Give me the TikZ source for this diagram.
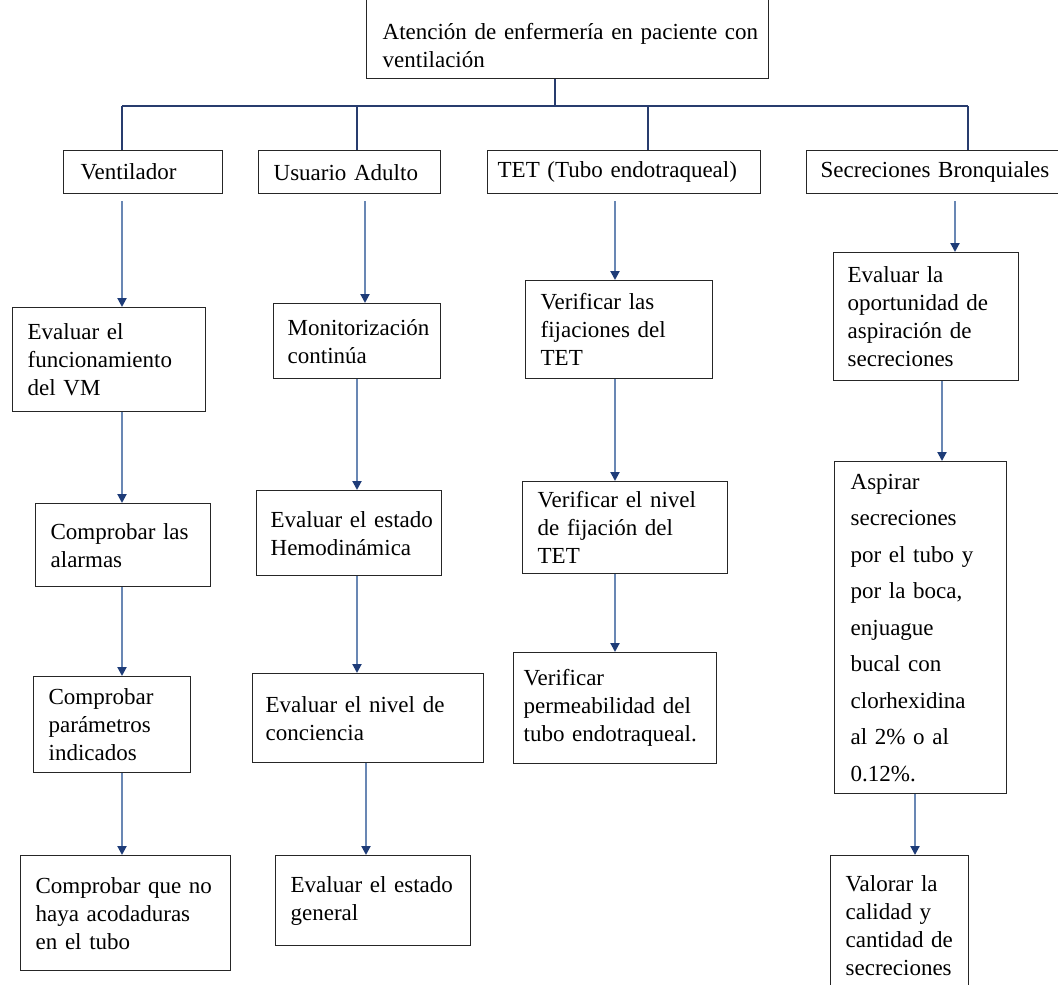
\documentclass[tikz,border=0pt]{standalone}
\usepackage{fontspec}
\setmainfont{Liberation Serif}
\usetikzlibrary{arrows.meta}

\definecolor{linea}{RGB}{40,60,110}
\definecolor{flecha}{RGB}{105,135,180}
\definecolor{punta}{RGB}{30,60,120}

\tikzset{
  caja/.style={draw=black!85, line width=1.3pt, anchor=north west,
    inner xsep=0pt, inner ysep=0pt,
    font=\fontsize{23}{28}\selectfont,
    execute at begin node={\leftskip=#1\rightskip=0pt plus 1fil\parindent=0pt}},
  caja/.default=14pt,
  rama/.style={draw=linea, line width=1.6pt},
  baja/.style={draw=flecha, line width=2pt,
    -{Triangle[length=9pt,width=9pt,color=punta]}}
}

\begin{document}
\begin{tikzpicture}[x=1pt,y=-1pt]

\useasboundingbox[fill=white] (0,0) rectangle (1058,985);

%% Titulo
\node[caja=16pt, text width=402pt, minimum height=81pt, text height=30pt] (aten) at (366,-3)
  {Atención de enfermería en paciente con\\ventilación};

%% Primer nivel
\node[caja=17pt, text width=159pt, minimum height=43pt] (vent) at (63,150) {Ventilador};
\node[caja=15pt, text width=182pt, minimum height=43pt] (usu) at (258,150) {Usuario Adulto};
\node[caja=10pt, text width=273pt, minimum height=43pt] (tet) at (487,150) {TET (Tubo endotraqueal)};
\node[caja, text width=300pt, minimum height=43pt] (secr) at (806,150) {Secreciones Bronquiales};

%% Ventilador
\node[caja=15pt, text width=193pt, minimum height=104pt] (vm) at (12,307)
  {Evaluar el\\funcionamiento\\del VM};
\node[caja=15pt, text width=175pt, minimum height=83pt] (alarmas) at (35,503)
  {Comprobar las\\alarmas};
\node[caja=15pt, text width=157pt, minimum height=96pt] (param) at (33,676)
  {Comprobar\\parámetros\\indicados};
\node[caja=15pt, text width=210pt, minimum height=115pt] (acod) at (20,855)
  {Comprobar que no\\haya acodaduras\\en el tubo};

%% Usuario adulto
\node[caja, text width=167pt, minimum height=75pt] (monit) at (273,303)
  {Monitorización\\continúa};
\node[caja, text width=185pt, minimum height=85pt] (hemo) at (256,490)
  {Evaluar el estado\\Hemodinámica};
\node[caja=13pt, text width=231pt, minimum height=89pt] (conc) at (252,673)
  {Evaluar el nivel de\\conciencia};
\node[caja=15pt, text width=195pt, minimum height=90pt] (gral) at (275,855)
  {Evaluar el estado\\general};

%% TET
\node[caja=15pt, text width=187pt, minimum height=98pt] (fij) at (525,280)
  {Verificar las\\fijaciones del\\TET};
\node[caja=15pt, text width=205pt, minimum height=92pt] (nivel) at (522,481)
  {Verificar el nivel\\de fijación del\\TET};
\node[caja=10pt, text width=203pt, minimum height=111pt] (perm) at (513,652)
  {Verificar\\permeabilidad del\\tubo endotraqueal.};

%% Secreciones
\node[caja, text width=185pt, minimum height=128pt] (oport) at (833,252)
  {Evaluar la\\oportunidad de\\aspiración de\\secreciones};
\node[caja=16pt, text width=172pt, minimum height=332pt, font=\fontsize{23}{36.5}\selectfont] (aspirar) at (834,461)
  {Aspirar\\secreciones\\por el tubo y\\por la boca,\\enjuague\\bucal con\\clorhexidina\\al 2\% o al\\0.12\%.};
\node[caja=15pt, text width=138pt, minimum height=140pt] (valorar) at (830,855)
  {Valorar la\\calidad y\\cantidad de\\secreciones};

%% Ramas del titulo
\coordinate (nudo) at (555,106);
\coordinate (r1) at (122,106);
\coordinate (r2) at (357,106);
\coordinate (r3) at (648,106);
\coordinate (r4) at (968,106);
\draw[rama] (aten.south -| nudo) -- (nudo);
\draw[rama] (r1) -- (r4);
\draw[rama] (r1) -- (r1 |- vent.north);
\draw[rama] (r2) -- (r2 |- usu.north);
\draw[rama] (r3) -- (r3 |- tet.north);
\draw[rama] (r4) -- (r4 |- secr.north);

%% Flechas
\draw[baja, shorten <=7pt] (vent.south -| 122,0) -- (vm.north -| 122,0);
\draw[baja] (vm.south -| 122,0) -- (alarmas.north -| 122,0);
\draw[baja] (alarmas.south -| 122,0) -- (param.north -| 122,0);
\draw[baja] (param.south -| 122,0) -- (acod.north -| 122,0);

\draw[baja, shorten <=7pt] (usu.south -| 365,0) -- (monit.north -| 365,0);
\draw[baja] (monit.south -| 357,0) -- (hemo.north -| 357,0);
\draw[baja] (hemo.south -| 357,0) -- (conc.north -| 357,0);
\draw[baja] (conc.south -| 366,0) -- (gral.north -| 366,0);

\draw[baja, shorten <=7pt] (tet.south -| 615,0) -- (fij.north -| 615,0);
\draw[baja] (fij.south -| 615,0) -- (nivel.north -| 615,0);
\draw[baja] (nivel.south -| 615,0) -- (perm.north -| 615,0);

\draw[baja, shorten <=7pt] (secr.south -| 955,0) -- (oport.north -| 955,0);
\draw[baja] (oport.south -| 942,0) -- (aspirar.north -| 942,0);
\draw[baja] (aspirar.south -| 915,0) -- (valorar.north -| 915,0);

\end{tikzpicture}
\end{document}
